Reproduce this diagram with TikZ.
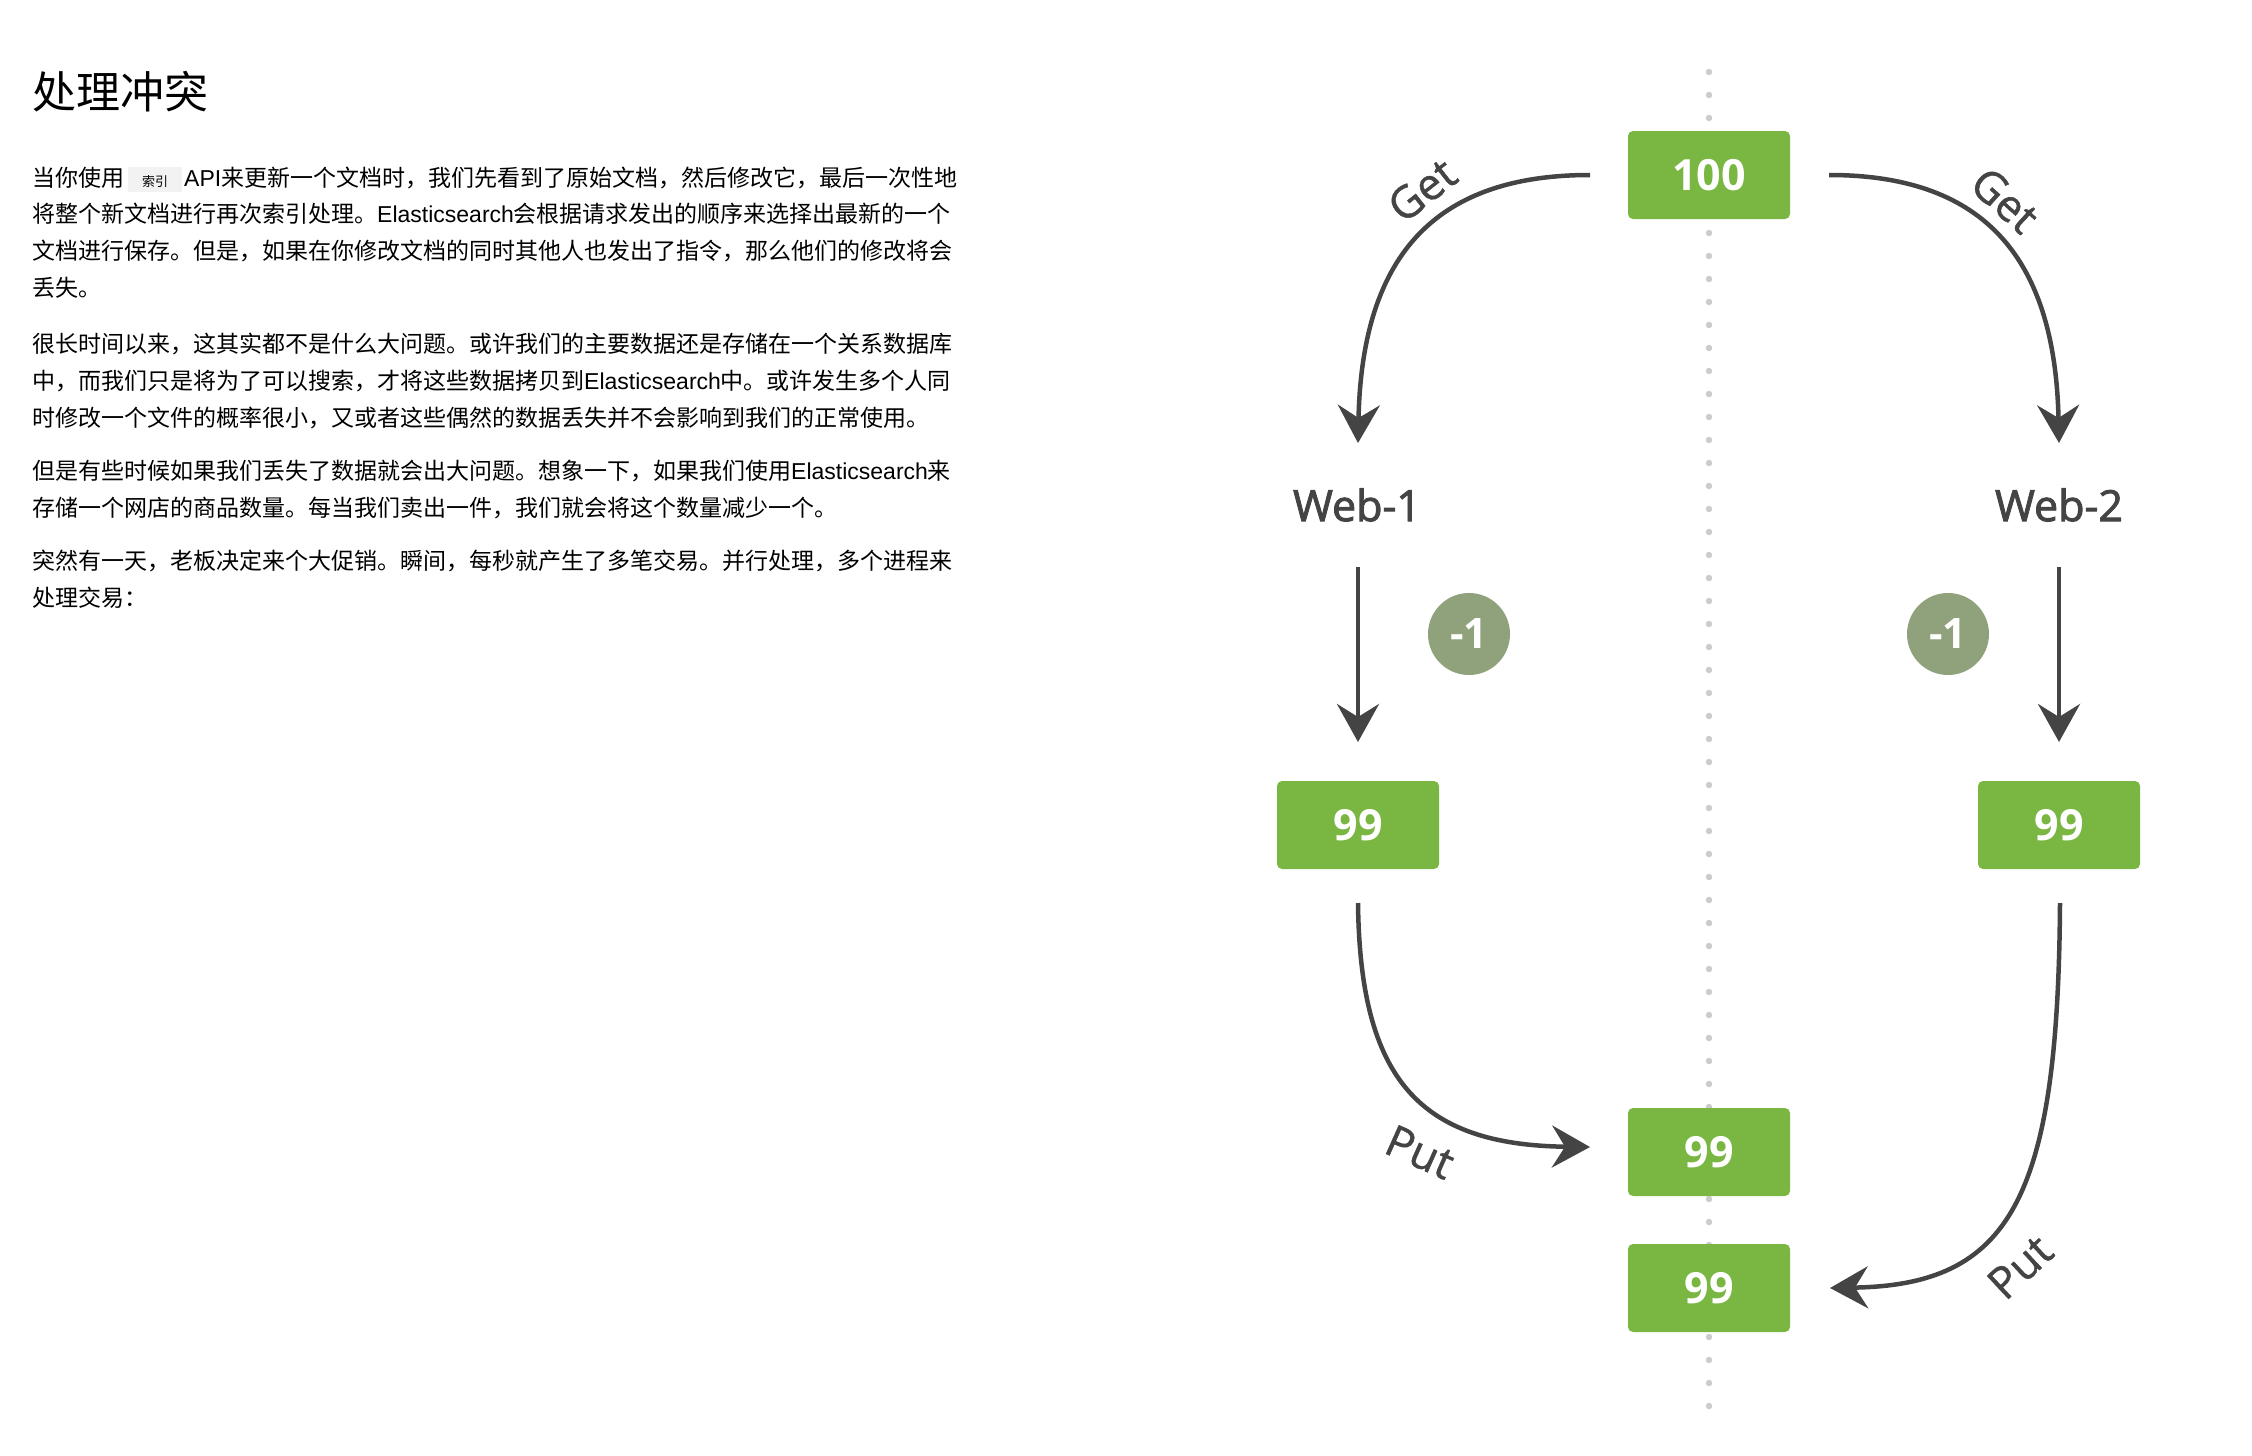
\documentclass[tikz,border=0pt]{standalone}
\usepackage{fontspec}
\setmainfont{Noto Sans CJK SC}
\newfontfamily\lat{Liberation Sans}
\newfontfamily\osans{Open Sans}
\newfontfamily\osansmed[FakeBold=2.2]{Open Sans}
\newfontfamily\osanslbl[FakeBold=1.0]{Open Sans}
\usetikzlibrary{arrows.meta}
\XeTeXlinebreaklocale "zh"
\XeTeXlinebreakskip=0pt plus 3pt
\definecolor{boxgreen}{HTML}{79B642}
\definecolor{minusgray}{HTML}{8FA27C}
\definecolor{arrowgray}{HTML}{444444}
\definecolor{dotgray}{HTML}{CCCCCC}
\definecolor{codebg}{HTML}{F2F2F2}
\newcommand{\es}{{\lat Elasticsearch}}
\newcommand{\jline}[1]{\hbox to 931pt{#1}}
\tikzset{
  bodyline/.style={anchor=base west, inner sep=0pt, font=\fontsize{23}{27}\selectfont, text=black},
  numbox/.style={fill=boxgreen, rounded corners=5pt, minimum width=162pt, minimum height=88pt, inner sep=0pt, text=white, font=\osans\bfseries\fontsize{43}{43}\selectfont},
  minusdot/.style={circle, fill=minusgray, minimum size=82pt, inner sep=0pt, text=white, font=\osans\bfseries\fontsize{42}{42}\selectfont},
  webtext/.style={inner sep=0pt, text=arrowgray, font=\osansmed\fontsize{43}{43}\selectfont},
  oplabel/.style={inner sep=0pt, text=arrowgray, font=\osanslbl\fontsize{44}{44}\selectfont},
  flow/.style={draw=arrowgray, line width=4.5pt, -{Stealth[length=38pt, width=42pt, inset=13pt]}},
  divider/.style={draw=dotgray, line width=6.5pt, line cap=round, dash pattern=on 0pt off 23pt}
}
\begin{document}
\begin{tikzpicture}[x=1pt, y=-1pt]
\useasboundingbox (0,0) rectangle (2252,1456);
% ---------------- text column ----------------
\node[anchor=base west, inner sep=0pt, font=\fontsize{44}{44}\selectfont] (title) at (32,108) {处理冲突};
\node[bodyline] (p1a) at (32,186) {\jline{当你使用\hspace{4pt}{\setlength\fboxsep{0pt}\colorbox{codebg}{\makebox[54pt]{\rule[-6pt]{0pt}{25pt}\fontsize{13}{13}\selectfont 索引}}}\hspace{2pt}{\lat API}来更新一个文档时，我们先看到了原始文档，然后修改它，最后一次性地}};
\node[bodyline] (p1b) at (32,222) {\jline{将整个新文档进行再次索引处理。\es 会根据请求发出的顺序来选择出最新的一个}};
\node[bodyline] (p1c) at (32,259) {\jline{文档进行保存。但是，如果在你修改文档的同时其他人也发出了指令，那么他们的修改将会}};
\node[bodyline] (p1d) at (32,296) {丢失。};
\node[bodyline] (p2a) at (32,352) {\jline{很长时间以来，这其实都不是什么大问题。或许我们的主要数据还是存储在一个关系数据库}};
\node[bodyline] (p2b) at (32,389) {\jline{中，而我们只是将为了可以搜索，才将这些数据拷贝到\es 中。或许发生多个人同}};
\node[bodyline] (p2c) at (32,426) {时修改一个文件的概率很小，又或者这些偶然的数据丢失并不会影响到我们的正常使用。};
\node[bodyline] (p3a) at (32,479) {\jline{但是有些时候如果我们丢失了数据就会出大问题。想象一下，如果我们使用\es 来}};
\node[bodyline] (p3b) at (32,516) {存储一个网店的商品数量。每当我们卖出一件，我们就会将这个数量减少一个。};
\node[bodyline] (p4a) at (32,569) {\jline{突然有一天，老板决定来个大促销。瞬间，每秒就产生了多笔交易。并行处理，多个进程来}};
\node[bodyline] (p4b) at (32,606) {处理交易：};
% ---------------- diagram ----------------
\coordinate (dtop) at (1709,72);
\coordinate (dbot) at (1709,1414);
\draw[divider] (dtop) -- (dbot);
\node[numbox] (top) at (1709,175) {100};
\node[numbox] (l99) at (1358,825) {99};
\node[numbox] (r99) at (2059,825) {99};
\node[numbox] (m1) at (1709,1152) {99};
\node[numbox] (m2) at (1709,1288) {99};
\node[webtext] (web1) at (1357,505) {Web-1};
\node[webtext] (web2) at (2059,505) {Web-2};
\node[minusdot] (c1) at (1469,634) {-1};
\node[minusdot] (c2) at (1948,634) {-1};
% connector end points
\coordinate (g1s) at (1590,175);
\coordinate (g1e) at (1358,443);
\coordinate (g2s) at (1829,175);
\coordinate (g2e) at (2059,443);
\coordinate (d1s) at (1358,567);
\coordinate (d1e) at (1358,742);
\coordinate (d2s) at (2059,567);
\coordinate (d2e) at (2059,742);
\coordinate (p1s) at (1358,903);
\coordinate (p1e) at (1590,1147);
\coordinate (p2s) at (2060,903);
\coordinate (p2e) at (1830,1288);
\draw[flow] (g1s) .. controls (1440,175) and (1362,250) .. (g1e);
\draw[flow] (g2s) .. controls (1977,175) and (2055,250) .. (g2e);
\draw[flow] (d1s) -- (d1e);
\draw[flow] (d2s) -- (d2e);
\draw[flow] (p1s) .. controls (1360,1080) and (1420,1145) .. (p1e);
\draw[flow] (p2s) .. controls (2058,1200) and (2010,1285) .. (p2e);
\node[oplabel, rotate=38] (get1) at (1422,190) {Get};
\node[oplabel, rotate=-42] (get2) at (2005,200) {Get};
\node[oplabel, rotate=-24] (put1) at (1420,1152) {Put};
\node[oplabel, rotate=43] (put2) at (2020,1267) {Put};
\end{tikzpicture}
\end{document}
